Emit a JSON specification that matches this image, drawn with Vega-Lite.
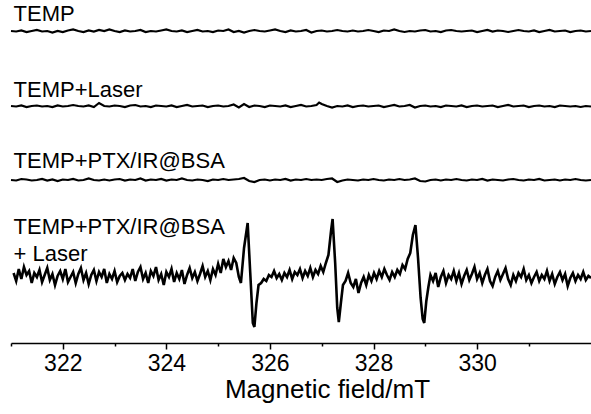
{
  "$schema": "https://vega.github.io/schema/vega-lite/v6.json",
  "width": 580,
  "height": 343,
  "autosize": "none",
  "padding": {"left": 11, "top": 0, "right": 0, "bottom": 71},
  "background": "white",
  "config": {"view": {"stroke": null}, "font": "Liberation Sans"},
  "datasets": {
    "labels": [
      {"x": 321.05, "y": 322, "t": "TEMP"},
      {"x": 321.05, "y": 246, "t": "TEMP+Laser"},
      {"x": 321.05, "y": 175, "t": "TEMP+PTX/IR@BSA"},
      {"x": 321.05, "y": 109, "t": "TEMP+PTX/IR@BSA"},
      {"x": 321.05, "y": 82, "t": "+ Laser"}
    ],
    "d": [
      {"x":321.0,"y":312},{"x":321.1,"y":311.5},{"x":321.2,"y":312.5},{"x":321.3,"y":311},{"x":321.4,"y":312},{"x":321.5,"y":313},{"x":321.6,"y":311.5},{"x":321.7,"y":312},{"x":321.8,"y":310.5},{"x":321.9,"y":312},
      {"x":322.0,"y":311},{"x":322.1,"y":312.5},{"x":322.2,"y":313.5},{"x":322.3,"y":312},{"x":322.4,"y":311},{"x":322.5,"y":312.5},{"x":322.6,"y":311.5},{"x":322.7,"y":313},{"x":322.8,"y":312},{"x":322.9,"y":313.5},
      {"x":323.0,"y":312},{"x":323.1,"y":311},{"x":323.2,"y":312.5},{"x":323.3,"y":311.5},{"x":323.4,"y":312},{"x":323.5,"y":313},{"x":323.6,"y":311},{"x":323.7,"y":312},{"x":323.8,"y":311.5},{"x":323.9,"y":312.5},
      {"x":324.0,"y":313.5},{"x":324.1,"y":312},{"x":324.2,"y":311.5},{"x":324.3,"y":312.5},{"x":324.4,"y":311},{"x":324.5,"y":312},{"x":324.6,"y":313},{"x":324.7,"y":311.5},{"x":324.8,"y":312},{"x":324.9,"y":311},
      {"x":325.0,"y":312.5},{"x":325.1,"y":312},{"x":325.2,"y":313.5},{"x":325.3,"y":311},{"x":325.4,"y":312},{"x":325.5,"y":310.5},{"x":325.6,"y":312},{"x":325.7,"y":313},{"x":325.8,"y":312},{"x":325.9,"y":311.5},
      {"x":326.0,"y":312.5},{"x":326.1,"y":313.5},{"x":326.2,"y":312},{"x":326.3,"y":311},{"x":326.4,"y":312.5},{"x":326.5,"y":311.5},{"x":326.6,"y":312},{"x":326.7,"y":313},{"x":326.8,"y":310.5},{"x":326.9,"y":312},
      {"x":327.0,"y":312.5},{"x":327.1,"y":311.5},{"x":327.2,"y":312},{"x":327.3,"y":313},{"x":327.4,"y":312},{"x":327.5,"y":311.5},{"x":327.6,"y":312.5},{"x":327.7,"y":311.5},{"x":327.8,"y":312},{"x":327.9,"y":313},
      {"x":328.0,"y":312},{"x":328.1,"y":311},{"x":328.2,"y":312.5},{"x":328.3,"y":312},{"x":328.4,"y":313.5},{"x":328.5,"y":312},{"x":328.6,"y":311},{"x":328.7,"y":312},{"x":328.8,"y":311.5},{"x":328.9,"y":312.5},
      {"x":329.0,"y":313},{"x":329.1,"y":311.5},{"x":329.2,"y":312},{"x":329.3,"y":311},{"x":329.4,"y":312.5},{"x":329.5,"y":313},{"x":329.6,"y":312},{"x":329.7,"y":311.5},{"x":329.8,"y":312},{"x":329.9,"y":312.5},
      {"x":330.0,"y":311},{"x":330.1,"y":312},{"x":330.2,"y":313},{"x":330.3,"y":311.5},{"x":330.4,"y":312.5},{"x":330.5,"y":312},{"x":330.6,"y":311},{"x":330.7,"y":312},{"x":330.8,"y":313},{"x":330.9,"y":312},
      {"x":331.0,"y":311.5},{"x":331.1,"y":312.5},{"x":331.2,"y":311},{"x":331.3,"y":312},{"x":331.4,"y":313},{"x":331.5,"y":311.5},{"x":331.6,"y":312},{"x":331.7,"y":312.5},{"x":331.8,"y":311},{"x":331.9,"y":312},
      {"x":332.0,"y":312.5},{"x":332.1,"y":311.5},{"x":332.2,"y":312}
    ],
    "l": [
      {"x":321.0,"y":237},{"x":321.1,"y":236.5},{"x":321.2,"y":237.5},{"x":321.3,"y":236},{"x":321.4,"y":237},{"x":321.5,"y":237.5},{"x":321.6,"y":236.5},{"x":321.7,"y":237},{"x":321.8,"y":236},{"x":321.9,"y":237.5},
      {"x":322.0,"y":236.5},{"x":322.1,"y":237},{"x":322.2,"y":238},{"x":322.3,"y":237},{"x":322.4,"y":236.5},{"x":322.5,"y":237.5},{"x":322.6,"y":236},{"x":322.7,"y":240},{"x":322.8,"y":237},{"x":322.9,"y":236.5},
      {"x":323.0,"y":237.5},{"x":323.1,"y":237},{"x":323.2,"y":236},{"x":323.3,"y":237.5},{"x":323.4,"y":238},{"x":323.5,"y":236.5},{"x":323.6,"y":237},{"x":323.7,"y":236},{"x":323.8,"y":237.5},{"x":323.9,"y":237},
      {"x":324.0,"y":236.5},{"x":324.1,"y":237.5},{"x":324.2,"y":236},{"x":324.3,"y":237},{"x":324.4,"y":238},{"x":324.5,"y":236.5},{"x":324.6,"y":237},{"x":324.7,"y":237.5},{"x":324.8,"y":236},{"x":324.9,"y":237},
      {"x":325.0,"y":237.5},{"x":325.1,"y":236.5},{"x":325.2,"y":237},{"x":325.3,"y":238.5},{"x":325.4,"y":235.5},{"x":325.5,"y":239},{"x":325.6,"y":236},{"x":325.7,"y":237.5},{"x":325.8,"y":237},{"x":325.9,"y":236},
      {"x":326.0,"y":237.5},{"x":326.1,"y":237},{"x":326.2,"y":236.5},{"x":326.3,"y":237.5},{"x":326.4,"y":236},{"x":326.5,"y":237},{"x":326.6,"y":238},{"x":326.7,"y":236.5},{"x":326.8,"y":237},{"x":326.9,"y":238},
      {"x":326.95,"y":240.5},{"x":327.0,"y":239},{"x":327.1,"y":237},{"x":327.2,"y":235.5},{"x":327.3,"y":237},{"x":327.4,"y":236.5},{"x":327.5,"y":237.5},{"x":327.6,"y":236},{"x":327.7,"y":237},{"x":327.8,"y":237.5},
      {"x":327.9,"y":236.5},{"x":328.0,"y":237},{"x":328.1,"y":237.5},{"x":328.2,"y":236},{"x":328.3,"y":237},{"x":328.4,"y":238},{"x":328.5,"y":236.5},{"x":328.6,"y":237},{"x":328.7,"y":238},{"x":328.8,"y":235.5},
      {"x":328.9,"y":237},{"x":329.0,"y":237.5},{"x":329.1,"y":236.5},{"x":329.2,"y":237},{"x":329.3,"y":236},{"x":329.4,"y":237.5},{"x":329.5,"y":237},{"x":329.6,"y":236.5},{"x":329.7,"y":237.5},{"x":329.8,"y":236},
      {"x":329.9,"y":237},{"x":330.0,"y":237.5},{"x":330.1,"y":236.5},{"x":330.2,"y":237},{"x":330.3,"y":237.5},{"x":330.4,"y":236},{"x":330.5,"y":237},{"x":330.6,"y":238},{"x":330.7,"y":236.5},{"x":330.8,"y":237},
      {"x":330.9,"y":237.5},{"x":331.0,"y":236},{"x":331.1,"y":237},{"x":331.2,"y":237.5},{"x":331.3,"y":236.5},{"x":331.4,"y":237},{"x":331.5,"y":236},{"x":331.6,"y":237.5},{"x":331.7,"y":237},{"x":331.8,"y":236.5},
      {"x":331.9,"y":237},{"x":332.0,"y":236},{"x":332.1,"y":237},{"x":332.2,"y":236.5}
    ],
    "p": [
      {"x":321.0,"y":163},{"x":321.1,"y":162.5},{"x":321.2,"y":164},{"x":321.3,"y":163.5},{"x":321.4,"y":162.5},{"x":321.5,"y":163},{"x":321.6,"y":164},{"x":321.7,"y":162.5},{"x":321.8,"y":163.5},{"x":321.9,"y":162},
      {"x":322.0,"y":163.5},{"x":322.1,"y":163},{"x":322.2,"y":164},{"x":322.3,"y":162.5},{"x":322.4,"y":163},{"x":322.5,"y":164.5},{"x":322.6,"y":163},{"x":322.7,"y":162.5},{"x":322.8,"y":163.5},{"x":322.9,"y":162.5},
      {"x":323.0,"y":163.5},{"x":323.1,"y":164},{"x":323.2,"y":162.5},{"x":323.3,"y":163.5},{"x":323.4,"y":163},{"x":323.5,"y":164.5},{"x":323.6,"y":162.5},{"x":323.7,"y":163.5},{"x":323.8,"y":163},{"x":323.9,"y":164},
      {"x":324.0,"y":162.5},{"x":324.1,"y":163.5},{"x":324.2,"y":163},{"x":324.3,"y":164.5},{"x":324.4,"y":163},{"x":324.5,"y":162.5},{"x":324.6,"y":163.5},{"x":324.7,"y":163},{"x":324.8,"y":162},{"x":324.9,"y":163.5},
      {"x":325.0,"y":163},{"x":325.1,"y":164},{"x":325.2,"y":163},{"x":325.3,"y":163.5},{"x":325.4,"y":164},{"x":325.5,"y":165},{"x":325.6,"y":162},{"x":325.7,"y":161},{"x":325.8,"y":163},{"x":325.9,"y":163.5},
      {"x":326.0,"y":162.5},{"x":326.1,"y":163.5},{"x":326.2,"y":163},{"x":326.3,"y":164},{"x":326.4,"y":162.5},{"x":326.5,"y":163.5},{"x":326.6,"y":163},{"x":326.7,"y":164},{"x":326.8,"y":163},{"x":326.9,"y":163.5},
      {"x":327.0,"y":163},{"x":327.1,"y":164},{"x":327.2,"y":164.5},{"x":327.3,"y":161},{"x":327.4,"y":162.5},{"x":327.5,"y":163.5},{"x":327.6,"y":163},{"x":327.7,"y":162.5},{"x":327.8,"y":163.5},{"x":327.9,"y":163},
      {"x":328.0,"y":164},{"x":328.1,"y":163},{"x":328.2,"y":162.5},{"x":328.3,"y":163.5},{"x":328.4,"y":163},{"x":328.5,"y":164},{"x":328.6,"y":163},{"x":328.7,"y":163.5},{"x":328.8,"y":164.5},{"x":328.9,"y":162},
      {"x":329.0,"y":161.5},{"x":329.1,"y":163},{"x":329.2,"y":163.5},{"x":329.3,"y":162.5},{"x":329.4,"y":163.5},{"x":329.5,"y":163},{"x":329.6,"y":164},{"x":329.7,"y":163},{"x":329.8,"y":162.5},{"x":329.9,"y":163.5},
      {"x":330.0,"y":163},{"x":330.1,"y":164},{"x":330.2,"y":162.5},{"x":330.3,"y":163.5},{"x":330.4,"y":163},{"x":330.5,"y":162.5},{"x":330.6,"y":163.5},{"x":330.7,"y":164},{"x":330.8,"y":163},{"x":330.9,"y":162.5},
      {"x":331.0,"y":163.5},{"x":331.1,"y":163},{"x":331.2,"y":164},{"x":331.3,"y":162.5},{"x":331.4,"y":163},{"x":331.5,"y":163.5},{"x":331.6,"y":162.5},{"x":331.7,"y":163.5},{"x":331.8,"y":163},{"x":331.9,"y":164},
      {"x":332.0,"y":163},{"x":332.1,"y":162.5},{"x":332.2,"y":163}
    ],
    "b": [
      {"x":321.05,"y":70},{"x":321.1,"y":62},{"x":321.15,"y":74},{"x":321.2,"y":64},{"x":321.25,"y":76},{"x":321.3,"y":68},{"x":321.35,"y":72},{"x":321.4,"y":60},{"x":321.45,"y":70},{"x":321.5,"y":66},
      {"x":321.55,"y":73},{"x":321.6,"y":61},{"x":321.65,"y":68},{"x":321.7,"y":75},{"x":321.75,"y":63},{"x":321.8,"y":69},{"x":321.85,"y":58},{"x":321.9,"y":67},{"x":321.95,"y":72},{"x":322.0,"y":64},
      {"x":322.05,"y":74},{"x":322.1,"y":61},{"x":322.15,"y":66},{"x":322.2,"y":71},{"x":322.25,"y":60},{"x":322.3,"y":69},{"x":322.35,"y":75},{"x":322.4,"y":63},{"x":322.45,"y":70},{"x":322.5,"y":59},
      {"x":322.55,"y":68},{"x":322.6,"y":73},{"x":322.65,"y":62},{"x":322.7,"y":71},{"x":322.75,"y":66},{"x":322.8,"y":74},{"x":322.85,"y":60},{"x":322.9,"y":69},{"x":322.95,"y":64},{"x":323.0,"y":72},
      {"x":323.05,"y":61},{"x":323.1,"y":67},{"x":323.15,"y":70},{"x":323.2,"y":63},{"x":323.25,"y":69},{"x":323.3,"y":65},{"x":323.35,"y":74},{"x":323.4,"y":62},{"x":323.45,"y":71},{"x":323.5,"y":76},
      {"x":323.55,"y":64},{"x":323.6,"y":70},{"x":323.65,"y":60},{"x":323.7,"y":72},{"x":323.75,"y":67},{"x":323.8,"y":76},{"x":323.85,"y":63},{"x":323.9,"y":69},{"x":323.95,"y":58},{"x":324.0,"y":71},
      {"x":324.05,"y":66},{"x":324.1,"y":74},{"x":324.15,"y":61},{"x":324.2,"y":70},{"x":324.25,"y":64},{"x":324.3,"y":73},{"x":324.35,"y":59},{"x":324.4,"y":68},{"x":324.45,"y":75},{"x":324.5,"y":65},
      {"x":324.55,"y":71},{"x":324.6,"y":62},{"x":324.65,"y":69},{"x":324.7,"y":77},{"x":324.75,"y":66},{"x":324.8,"y":72},{"x":324.85,"y":63},{"x":324.9,"y":74},{"x":324.95,"y":68},{"x":325.0,"y":79},
      {"x":325.05,"y":70},{"x":325.1,"y":84},{"x":325.15,"y":76},{"x":325.2,"y":82},{"x":325.25,"y":73},{"x":325.3,"y":85},{"x":325.35,"y":80},{"x":325.4,"y":66},{"x":325.44,"y":60},{"x":325.5,"y":95},
      {"x":325.57,"y":120},{"x":325.62,"y":70},{"x":325.67,"y":20},{"x":325.7,"y":16},{"x":325.74,"y":40},{"x":325.78,"y":58},{"x":325.83,"y":60},{"x":325.88,"y":64},{"x":325.93,"y":62},{"x":325.98,"y":68},
      {"x":326.03,"y":66},{"x":326.08,"y":72},{"x":326.13,"y":65},{"x":326.18,"y":69},{"x":326.23,"y":63},{"x":326.28,"y":70},{"x":326.33,"y":66},{"x":326.38,"y":73},{"x":326.43,"y":64},{"x":326.48,"y":71},
      {"x":326.53,"y":68},{"x":326.58,"y":74},{"x":326.63,"y":65},{"x":326.68,"y":72},{"x":326.73,"y":67},{"x":326.78,"y":75},{"x":326.83,"y":66},{"x":326.88,"y":73},{"x":326.93,"y":69},{"x":326.98,"y":77},
      {"x":327.03,"y":71},{"x":327.08,"y":80},{"x":327.13,"y":88},{"x":327.18,"y":112},{"x":327.21,"y":124},{"x":327.26,"y":80},{"x":327.3,"y":35},{"x":327.33,"y":21},{"x":327.37,"y":40},{"x":327.41,"y":58},
      {"x":327.46,"y":62},{"x":327.51,"y":70},{"x":327.56,"y":60},{"x":327.61,"y":56},{"x":327.66,"y":64},{"x":327.71,"y":50},{"x":327.76,"y":60},{"x":327.81,"y":66},{"x":327.86,"y":58},{"x":327.91,"y":68},
      {"x":327.96,"y":62},{"x":328.01,"y":70},{"x":328.06,"y":64},{"x":328.11,"y":72},{"x":328.16,"y":66},{"x":328.21,"y":74},{"x":328.26,"y":68},{"x":328.31,"y":63},{"x":328.36,"y":71},{"x":328.41,"y":66},
      {"x":328.46,"y":73},{"x":328.51,"y":69},{"x":328.56,"y":78},{"x":328.61,"y":74},{"x":328.66,"y":84},{"x":328.71,"y":90},{"x":328.76,"y":108},{"x":328.81,"y":118},{"x":328.86,"y":85},{"x":328.91,"y":45},
      {"x":328.95,"y":24},{"x":328.98,"y":20},{"x":329.02,"y":42},{"x":329.06,"y":56},{"x":329.1,"y":68},{"x":329.15,"y":62},{"x":329.2,"y":70},{"x":329.25,"y":56},{"x":329.3,"y":66},{"x":329.35,"y":72},
      {"x":329.4,"y":60},{"x":329.45,"y":68},{"x":329.5,"y":64},{"x":329.55,"y":72},{"x":329.6,"y":62},{"x":329.65,"y":70},{"x":329.7,"y":59},{"x":329.75,"y":67},{"x":329.8,"y":73},{"x":329.85,"y":63},
      {"x":329.9,"y":69},{"x":329.95,"y":76},{"x":330.0,"y":64},{"x":330.05,"y":70},{"x":330.1,"y":60},{"x":330.15,"y":68},{"x":330.2,"y":74},{"x":330.25,"y":62},{"x":330.3,"y":57},{"x":330.35,"y":66},
      {"x":330.4,"y":72},{"x":330.45,"y":63},{"x":330.5,"y":69},{"x":330.55,"y":75},{"x":330.6,"y":64},{"x":330.65,"y":58},{"x":330.7,"y":68},{"x":330.75,"y":62},{"x":330.8,"y":70},{"x":330.85,"y":66},
      {"x":330.9,"y":74},{"x":330.95,"y":63},{"x":331.0,"y":68},{"x":331.05,"y":60},{"x":331.1,"y":66},{"x":331.15,"y":71},{"x":331.2,"y":62},{"x":331.25,"y":68},{"x":331.3,"y":64},{"x":331.35,"y":72},
      {"x":331.4,"y":62},{"x":331.45,"y":69},{"x":331.5,"y":59},{"x":331.55,"y":66},{"x":331.6,"y":71},{"x":331.65,"y":63},{"x":331.7,"y":69},{"x":331.75,"y":57},{"x":331.8,"y":65},{"x":331.85,"y":70},
      {"x":331.9,"y":62},{"x":331.95,"y":68},{"x":332.0,"y":64},{"x":332.05,"y":71},{"x":332.1,"y":63},{"x":332.15,"y":67},{"x":332.2,"y":65}
    ]
  },
  "layer": [
    {
      "data": {"name": "d"},
      "mark": {"type": "line", "color": "black", "strokeWidth": 2.2},
      "encoding": {
        "x": {"field": "x", "type": "quantitative", "scale": {"domain": [321, 332.2], "nice": false, "zero": false},
          "axis": {"values": [321,322,323,324,325,326,327,328,329,330,331],
            "labelExpr": "datum.value % 2 === 0 ? datum.label : ''",
            "tickSize": {"condition": {"test": "datum.value % 2 === 0", "value": 6}, "value": 3},
            "domainColor": "black", "domainWidth": 1.5, "tickColor": "black", "tickWidth": 1.5,
            "labelFontSize": 23, "labelColor": "black", "labelPadding": 3, "labelFont": "Liberation Sans",
            "title": "Magnetic field/mT", "titleFontSize": 26, "titleFontWeight": "normal", "titleColor": "black", "titleFont": "Liberation Sans", "titlePadding": 1,
            "titleX": 316, "titleAnchor": "middle",
            "grid": false, "labelFlush": false, "labelOverlap": false}},
        "y": {"field": "y", "type": "quantitative", "scale": {"domain": [0, 343], "nice": false, "zero": false}, "axis": null}
      }
    },
    {"data": {"name": "l"}, "mark": {"type": "line", "color": "black", "strokeWidth": 2.2},
      "encoding": {"x": {"field": "x", "type": "quantitative"}, "y": {"field": "y", "type": "quantitative"}}},
    {"data": {"name": "p"}, "mark": {"type": "line", "color": "black", "strokeWidth": 2.2},
      "encoding": {"x": {"field": "x", "type": "quantitative"}, "y": {"field": "y", "type": "quantitative"}}},
    {"data": {"name": "b"}, "mark": {"type": "line", "color": "black", "strokeWidth": 2.6},
      "encoding": {"x": {"field": "x", "type": "quantitative"}, "y": {"field": "y", "type": "quantitative"}}},
    {"data": {"name": "labels"}, "mark": {"type": "text", "align": "left", "baseline": "alphabetic", "fontSize": 22, "font": "Liberation Sans", "color": "black"},
      "encoding": {"x": {"field": "x", "type": "quantitative"}, "y": {"field": "y", "type": "quantitative"}, "text": {"field": "t"}}}
  ]
}
